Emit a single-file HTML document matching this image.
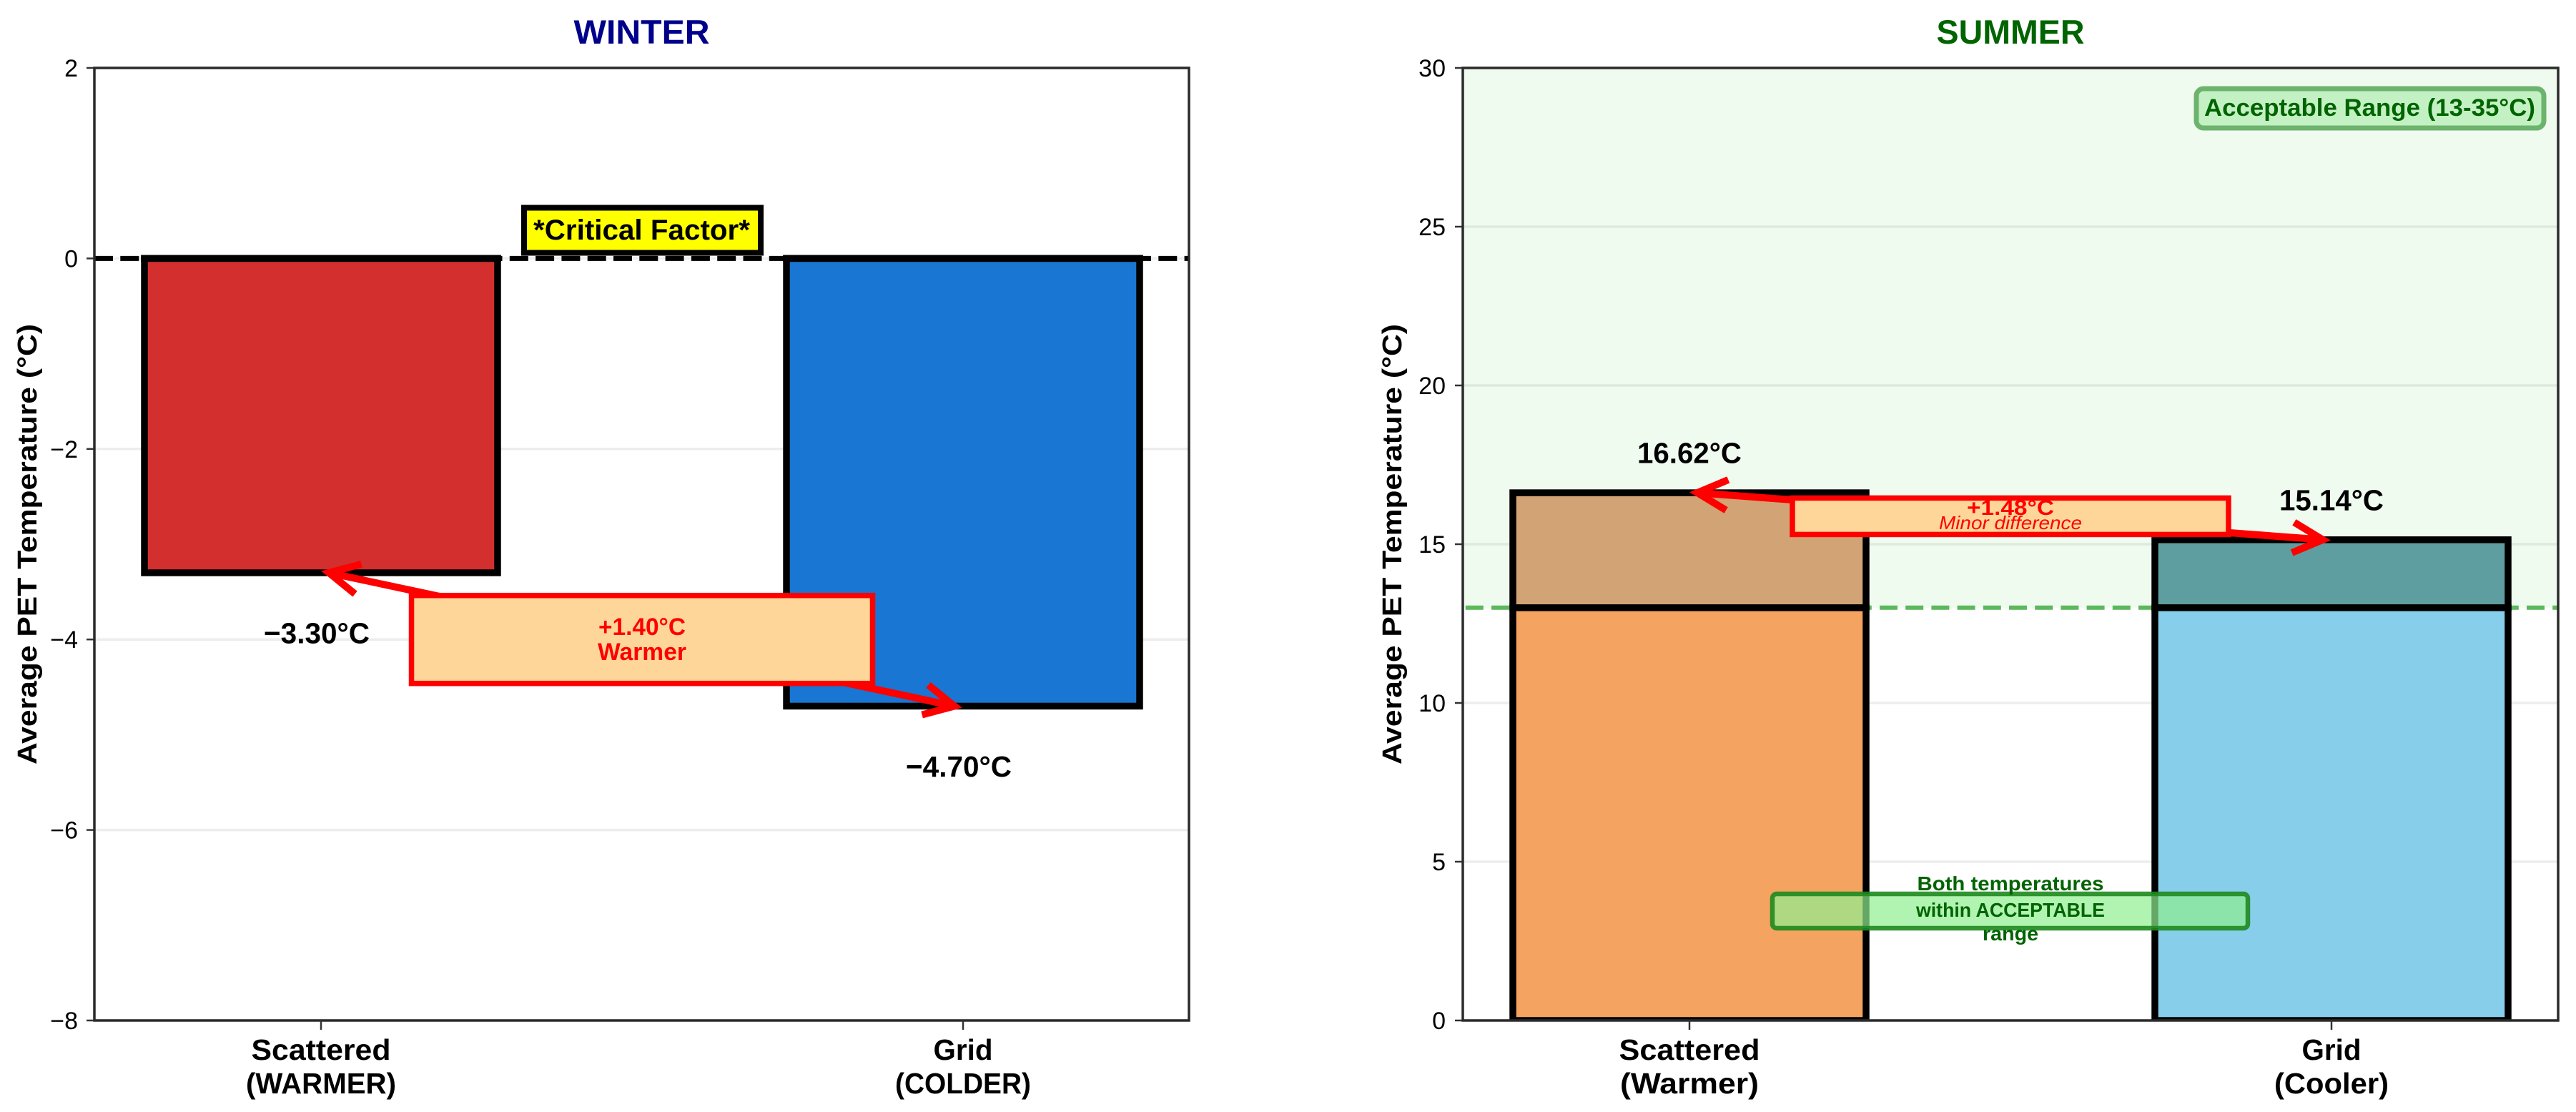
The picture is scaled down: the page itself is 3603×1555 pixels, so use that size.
<!DOCTYPE html>
<html lang="en">
<head>
<meta charset="utf-8">
<title>Average PET Temperature: Winter and Summer</title>
<style>
html,body{margin:0;padding:0;background:#fff;width:3603px;height:1555px;overflow:hidden}
svg{display:block}
text{font-family:"Liberation Sans",sans-serif}
</style>
</head>
<body>
<svg id="chart" xmlns="http://www.w3.org/2000/svg" width="3603" height="1555" viewBox="0 0 3603 1555">
  <defs>
    <clipPath id="summer-clip"><rect x="2046" y="95" width="1532" height="1332"/></clipPath>
  </defs>
  <rect width="3603" height="1555" fill="#fff"/>

  <g id="winter-panel">
    <text x="897.5" y="61" font-size="47" font-weight="700" fill="#00008b" text-anchor="middle" textLength="190" lengthAdjust="spacingAndGlyphs">WINTER</text>
    <g id="winter-grid"></g>
    <rect x="733" y="290.5" width="331" height="63" fill="#ffff00" stroke="#000" stroke-width="8"/>
    <text x="897.5" y="335" font-size="40" font-weight="700" fill="#000" text-anchor="middle" textLength="303" lengthAdjust="spacingAndGlyphs">*Critical Factor*</text>
    <g id="winter-bars"></g>
    <line id="zero-line" stroke="#000" stroke-width="7" stroke-dasharray="26 10.3"/>
    <g id="winter-redraw"></g>
    <g id="winter-axes"></g>
    <g id="winter-annotations"></g>
    <text transform="translate(51,761) rotate(-90)" font-size="38" font-weight="700" fill="#000" text-anchor="middle" textLength="616" lengthAdjust="spacingAndGlyphs">Average PET Temperature (°C)</text>
  </g>

  <g id="summer-panel">
    <text x="2812" y="61" font-size="47" font-weight="700" fill="#006400" text-anchor="middle" textLength="207" lengthAdjust="spacingAndGlyphs">SUMMER</text>
    <rect id="acceptable-span" fill="#f0fbf0"/>
    <g id="summer-grid"></g>
    <line id="threshold-line" stroke="#5cb85c" stroke-width="6" stroke-dasharray="25 11.2" stroke-dashoffset="32.4"/>
    <g id="summer-bars" clip-path="url(#summer-clip)"></g>
    <g id="summer-axes"></g>
    <g id="summer-annotations"></g>
    <rect x="3072" y="124" width="486" height="55" rx="10" fill="#c4f1c4" stroke="#6db36d" stroke-width="7"/>
    <text x="3314.5" y="162" font-size="34" font-weight="700" fill="#006400" text-anchor="middle" textLength="463" lengthAdjust="spacingAndGlyphs">Acceptable Range (13-35°C)</text>
    <rect x="2479" y="1250" width="665" height="48" rx="6" fill="#90ee90" fill-opacity="0.7" stroke="#1f8a1f" stroke-opacity="0.9" stroke-width="6.5"/>
    <text x="2812" y="1245" font-size="28" font-weight="700" fill="#006400" text-anchor="middle" textLength="261" lengthAdjust="spacingAndGlyphs">Both temperatures</text>
    <text x="2812" y="1282" font-size="28" font-weight="700" fill="#006400" text-anchor="middle" textLength="264" lengthAdjust="spacingAndGlyphs">within ACCEPTABLE</text>
    <text x="2812" y="1315" font-size="28" font-weight="700" fill="#006400" text-anchor="middle" textLength="78" lengthAdjust="spacingAndGlyphs">range</text>
    <text transform="translate(1960,761) rotate(-90)" font-size="38" font-weight="700" fill="#000" text-anchor="middle" textLength="616" lengthAdjust="spacingAndGlyphs">Average PET Temperature (°C)</text>
  </g>
</svg>

<script>
const winterCategories = ['Scattered', 'Grid'];
const winterCategoryNotes = ['(WARMER)', '(COLDER)'];
const winterValues = [-3.30, -4.70];
const winterTicks = [2, 0, -2, -4, -6, -8];
const winterTickLabels = ['2', '0', '−2', '−4', '−6', '−8'];
const winterColors = ['#d32f2f', '#1976d2'];
const winterCalloutNote = 'Warmer';

const summerCategories = ['Scattered', 'Grid'];
const summerCategoryNotes = ['(Warmer)', '(Cooler)'];
const summerValues = [16.62, 15.14];
const summerThreshold = 13;
const summerTicks = [30, 25, 20, 15, 10, 5, 0];
const summerTickLabels = ['30', '25', '20', '15', '10', '5', '0'];
const summerLowerColors = ['#f4a460', '#87ceeb'];
const summerUpperColors = ['#d2a475', '#5f9ea0'];
const summerCalloutNote = 'Minor difference';

const SVGNS = 'http://www.w3.org/2000/svg';
const byId = function (id) { return document.getElementById(id); };

function linear(d0, d1, r0, r1) {
  return function (v) { return r0 + (v - d0) * (r1 - r0) / (d1 - d0); };
}
const winterY = linear(-8, 2, 1427, 95);
const summerY = linear(0, 30, 1427, 95);
const winterX = linear(0, 1, 449, 1347);
const summerX = linear(0, 1, 2363, 3261);
const BAR_HALF = 247;
const BAR_EDGE = 9.5;

function mk(tag, attrs, parent) {
  const el = document.createElementNS(SVGNS, tag);
  Object.keys(attrs).forEach(function (k) { el.setAttribute(k, attrs[k]); });
  parent.appendChild(el);
  return el;
}

function mkText(str, attrs, parent) {
  const el = mk('text', attrs, parent);
  el.setAttribute('text-anchor', attrs['text-anchor'] || 'middle');
  if (attrs.textLength) el.setAttribute('lengthAdjust', 'spacingAndGlyphs');
  el.textContent = str;
  return el;
}

function arrowPath(x0, y0, x1, y1) {
  const ang = Math.atan2(y1 - y0, x1 - x0);
  const wing = 47, spread = 27 * Math.PI / 180;
  function head(tx, ty, dir) {
    const a1 = dir + spread, a2 = dir - spread;
    return 'M' + (tx + wing * Math.cos(a1)) + ' ' + (ty + wing * Math.sin(a1)) +
      'L' + tx + ' ' + ty +
      'L' + (tx + wing * Math.cos(a2)) + ' ' + (ty + wing * Math.sin(a2));
  }
  return 'M' + x0 + ' ' + y0 + 'L' + x1 + ' ' + y1 + head(x0, y0, ang) + head(x1, y1, ang + Math.PI);
}

/* Axes shared by both panels */
function drawAxes(prefix, layer, gridLayer, xFn, yFn, left, right, ticks, tickLabels, cats, notes, catW, noteW, labelRight) {
  ticks.forEach(function (t, i) {
    const grid = mk('line', {x1: left, x2: right, y1: yFn(t), y2: yFn(t), stroke: '#000', 'stroke-opacity': 0.07, 'stroke-width': 3.5}, gridLayer);
    
    
    const tick = mk('line', {x1: left - 11, x2: left, y1: yFn(t), y2: yFn(t), stroke: '#333', 'stroke-width': 2.5}, layer);
    
    
    const lab = mkText(tickLabels[i], {x: labelRight, y: yFn(t) + 12, 'font-size': 34, fill: '#000', 'text-anchor': 'end'}, layer);
    
    
  });
  const top = yFn(ticks[0]);
  const bottom = yFn(ticks[ticks.length - 1]);
  const frame = mk('path', {d: 'M' + left + ' ' + top + 'H' + right + 'V' + bottom + 'H' + left + 'Z', fill: 'none', stroke: '#2a2a2a', 'stroke-width': 3.5}, layer);
  
  
  cats.forEach(function (c, i) {
    const xt = mk('line', {x1: xFn(i), x2: xFn(i), y1: bottom, y2: bottom + 13, stroke: '#333', 'stroke-width': 2.5}, layer);
    
    
    const l1 = mkText(c, {x: xFn(i), y: 1482, 'font-size': 41, 'font-weight': 700, fill: '#000', textLength: catW[i]}, layer);
    
    
    const l2 = mkText(notes[i], {x: xFn(i), y: 1529, 'font-size': 41, 'font-weight': 700, fill: '#000', textLength: noteW[i]}, layer);
    
    
  });
}

function drawCallout(prefix, layer, xFn, yFn, values, halfW, halfH, line1Base, line2Base, line1Size, note, noteAttrs) {
  const x0 = xFn(0) + 11, y0 = yFn(values[0]);
  const x1 = xFn(1) - 12, y1 = yFn(values[1]);
  const arrow = mk('path', {d: arrowPath(x0, y0, x1, y1), fill: 'none', stroke: '#ff0000', 'stroke-width': 10}, layer);
  
  
  const cx = (xFn(0) + xFn(1)) / 2, cy = (y0 + y1) / 2;
  const box = mk('rect', {x: cx - halfW, y: cy - halfH, width: 2 * halfW, height: 2 * halfH, fill: '#ffd699', stroke: '#ff0000', 'stroke-width': 7.5}, layer);
  
  
  const diff = '+' + (values[0] - values[1]).toFixed(2) + '°C';
  const t1 = mkText(diff, {x: cx, y: cy + line1Base, 'font-size': line1Size, 'font-weight': 700, fill: '#ff0000', textLength: 122}, layer);
  
  
  const t2 = mkText(note, Object.assign({x: cx, y: cy + line2Base, fill: '#ff0000'}, noteAttrs), layer);
  
  
}

function formatValue(v) {
  return (v < 0 ? '−' : '') + Math.abs(v).toFixed(2) + '°C';
}

/* Winter */
drawAxes('winter', byId('winter-axes'), byId('winter-grid'), winterX, winterY, 132, 1663,
  winterTicks, winterTickLabels, winterCategories, winterCategoryNotes, [195, 83], [210, 190], 109);

const zero = byId('zero-line');
zero.setAttribute('x1', 132);
zero.setAttribute('x2', 1663);
zero.setAttribute('y1', winterY(0));
zero.setAttribute('y2', winterY(0));

winterValues.forEach(function (v, i) {
  const bar = mk('rect', {
    x: winterX(i) - BAR_HALF, y: winterY(0), width: 2 * BAR_HALF, height: winterY(v) - winterY(0),
    fill: winterColors[i], stroke: '#000', 'stroke-width': BAR_EDGE
  }, byId('winter-bars'));
  
  
  const cap = mk('line', {
    x1: winterX(i) - BAR_HALF - 4.75, x2: winterX(i) + BAR_HALF + 4.75, y1: winterY(0), y2: winterY(0),
    stroke: '#000', 'stroke-width': BAR_EDGE
  }, byId('winter-redraw'));
  
  
  const lab = mkText(formatValue(v), {
    x: winterX(i) - 6, y: winterY(v) + 98.5, 'font-size': 41, 'font-weight': 700, fill: '#000', textLength: 148
  }, byId('winter-annotations'));
  
  
});

drawCallout('winter', byId('winter-annotations'), winterX, winterY, winterValues, 322.5, 61.5, -6, 29, 34,
  winterCalloutNote, {'font-size': 34, 'font-weight': 700, textLength: 124});

/* Summer */
const span = byId('acceptable-span');
span.setAttribute('x', 2046);
span.setAttribute('width', 1532);
span.setAttribute('y', summerY(30));
span.setAttribute('height', summerY(summerThreshold) - summerY(30));

drawAxes('summer', byId('summer-axes'), byId('summer-grid'), summerX, summerY, 2046, 3578,
  summerTicks, summerTickLabels, summerCategories, summerCategoryNotes, [197, 83], [194, 160], 2022);

const thresh = byId('threshold-line');
thresh.setAttribute('x1', 2046);
thresh.setAttribute('x2', 3578);
thresh.setAttribute('y1', summerY(summerThreshold));
thresh.setAttribute('y2', summerY(summerThreshold));

summerValues.forEach(function (v, i) {
  const lower = mk('rect', {
    x: summerX(i) - BAR_HALF, y: summerY(summerThreshold), width: 2 * BAR_HALF, height: summerY(0) - summerY(summerThreshold),
    fill: summerLowerColors[i], stroke: '#000', 'stroke-width': BAR_EDGE
  }, byId('summer-bars'));
  
  
  const upper = mk('rect', {
    x: summerX(i) - BAR_HALF, y: summerY(v), width: 2 * BAR_HALF, height: summerY(summerThreshold) - summerY(v),
    fill: summerUpperColors[i], stroke: '#000', 'stroke-width': BAR_EDGE
  }, byId('summer-bars'));
  
  
  const lab = mkText(formatValue(v), {
    x: summerX(i), y: summerY(v) - 41.5, 'font-size': 41, 'font-weight': 700, fill: '#000', textLength: 146
  }, byId('summer-annotations'));
  
  
});

drawCallout('summer', byId('summer-annotations'), summerX, summerY, summerValues, 305, 25.5, -2, 18, 30,
  summerCalloutNote, {'font-size': 26, 'font-style': 'italic', textLength: 200});
</script>
</body>
</html>
